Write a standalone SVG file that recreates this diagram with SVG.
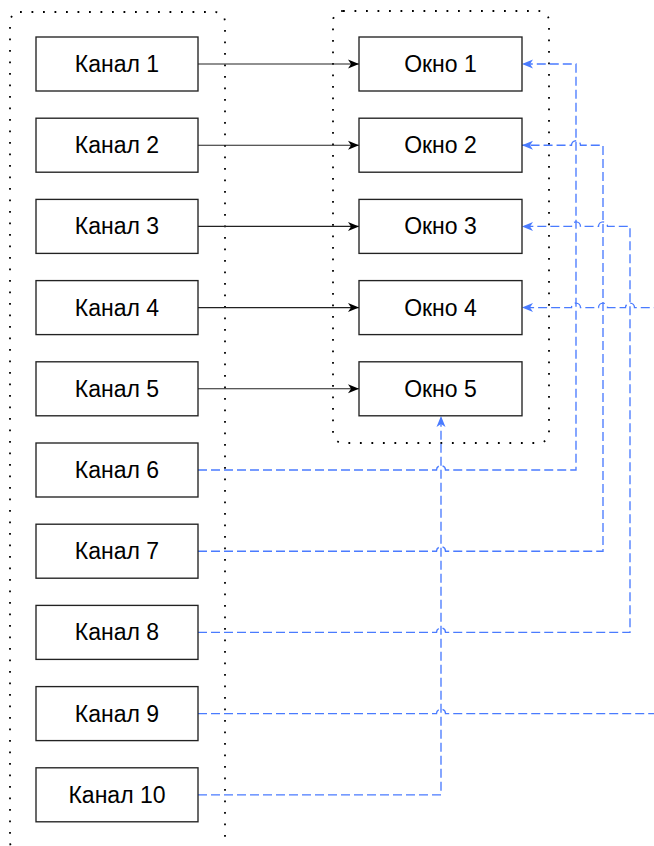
<svg xmlns="http://www.w3.org/2000/svg" width="654" height="846" viewBox="0 0 654 846">
<style>
.box{fill:#fff;stroke:#222;stroke-width:1.35}
.lbl{font-family:"Liberation Sans",Arial,sans-serif;font-size:23px;fill:#000;text-anchor:middle;dominant-baseline:central}
.cont{fill:none;stroke:#000;stroke-width:1.8;stroke-dasharray:1.8 9.7}
.solid{fill:none;stroke:#222;stroke-width:1.1}
.dash{fill:none;stroke:#4a7bff;stroke-width:1.35;stroke-dasharray:9 4}
</style>
<defs>
<marker id="ab" markerUnits="userSpaceOnUse" markerWidth="12" markerHeight="10" refX="11" refY="5" orient="auto">
<path d="M0,0.5 L11,5 L0,9.5 L3,5 z" fill="#000"/>
</marker>
<marker id="ablue" markerUnits="userSpaceOnUse" markerWidth="12" markerHeight="10" refX="11" refY="5" orient="auto">
<path d="M0,0.5 L11,5 L0,9.5 L3,5 z" fill="#4a7bff"/>
</marker>
</defs>
<g id="containers">
<rect x="10" y="12" width="215" height="840" rx="10" class="cont"/>
<rect x="333" y="11" width="216" height="432" rx="10" class="cont"/>
</g>
<g id="connectors">
<path class="solid" d="M198 64 H359" marker-end="url(#ab)"/>
<path class="solid" d="M198 145.2 H359" marker-end="url(#ab)"/>
<path class="solid" d="M198 226.4 H359" marker-end="url(#ab)"/>
<path class="solid" d="M198 307.6 H359" marker-end="url(#ab)"/>
<path class="solid" d="M198 388.8 H359" marker-end="url(#ab)"/>
<path class="dash" d="M198 470 H436.5 A4.5 4.5 0 0 1 445.5 470 H576 V64 H522" marker-end="url(#ablue)"/>
<path class="dash" d="M198 551.2 H436.5 A4.5 4.5 0 0 1 445.5 551.2 H603 V145.2 H580.5 A4.5 4.5 0 0 0 571.5 145.2 H522" marker-end="url(#ablue)"/>
<path class="dash" d="M198 632.4 H436.5 A4.5 4.5 0 0 1 445.5 632.4 H630 V226.4 H607.5 A4.5 4.5 0 0 0 598.5 226.4 H580.5 A4.5 4.5 0 0 0 571.5 226.4 H522" marker-end="url(#ablue)"/>
<path class="dash" d="M198 713.6 H436.5 A4.5 4.5 0 0 1 445.5 713.6 H680 V307.6 H634.5 A4.5 4.5 0 0 0 625.5 307.6 H607.5 A4.5 4.5 0 0 0 598.5 307.6 H580.5 A4.5 4.5 0 0 0 571.5 307.6 H522" marker-end="url(#ablue)"/>
<path class="dash" d="M198 794.8 H441 V416" marker-end="url(#ablue)"/>
</g>
<g id="kanal1"><rect class="box" x="36" y="37" width="162" height="54"/><text class="lbl" x="117" y="64">Канал 1</text></g>
<g id="kanal2"><rect class="box" x="36" y="118.2" width="162" height="54"/><text class="lbl" x="117" y="145.2">Канал 2</text></g>
<g id="kanal3"><rect class="box" x="36" y="199.4" width="162" height="54"/><text class="lbl" x="117" y="226.4">Канал 3</text></g>
<g id="kanal4"><rect class="box" x="36" y="280.6" width="162" height="54"/><text class="lbl" x="117" y="307.6">Канал 4</text></g>
<g id="kanal5"><rect class="box" x="36" y="361.8" width="162" height="54"/><text class="lbl" x="117" y="388.8">Канал 5</text></g>
<g id="kanal6"><rect class="box" x="36" y="443" width="162" height="54"/><text class="lbl" x="117" y="470">Канал 6</text></g>
<g id="kanal7"><rect class="box" x="36" y="524.2" width="162" height="54"/><text class="lbl" x="117" y="551.2">Канал 7</text></g>
<g id="kanal8"><rect class="box" x="36" y="605.4" width="162" height="54"/><text class="lbl" x="117" y="632.4">Канал 8</text></g>
<g id="kanal9"><rect class="box" x="36" y="686.6" width="162" height="54"/><text class="lbl" x="117" y="713.6">Канал 9</text></g>
<g id="kanal10"><rect class="box" x="36" y="767.8" width="162" height="54"/><text class="lbl" x="117" y="794.8">Канал 10</text></g>
<g id="okno1"><rect class="box" x="359" y="37" width="163" height="54"/><text class="lbl" x="440.5" y="64">Окно 1</text></g>
<g id="okno2"><rect class="box" x="359" y="118.2" width="163" height="54"/><text class="lbl" x="440.5" y="145.2">Окно 2</text></g>
<g id="okno3"><rect class="box" x="359" y="199.4" width="163" height="54"/><text class="lbl" x="440.5" y="226.4">Окно 3</text></g>
<g id="okno4"><rect class="box" x="359" y="280.6" width="163" height="54"/><text class="lbl" x="440.5" y="307.6">Окно 4</text></g>
<g id="okno5"><rect class="box" x="359" y="361.8" width="163" height="54"/><text class="lbl" x="440.5" y="388.8">Окно 5</text></g>
</svg>
